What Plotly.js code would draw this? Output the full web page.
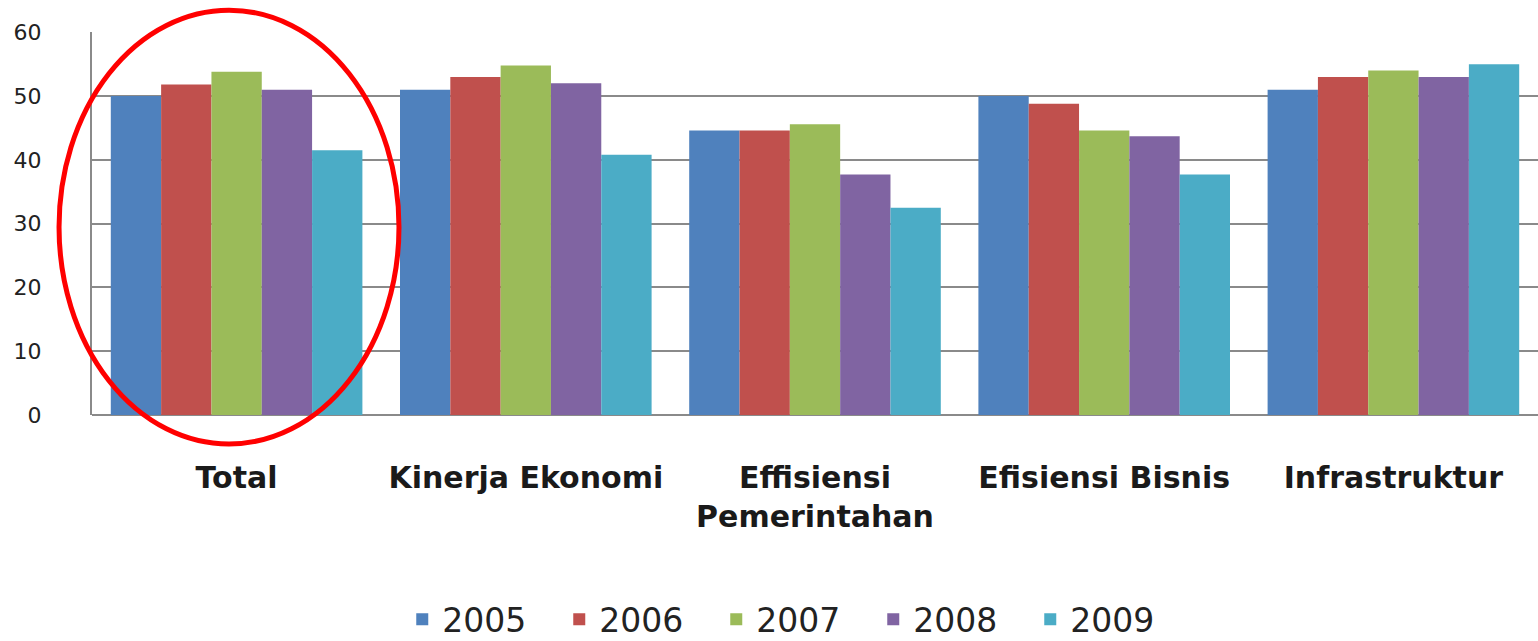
<!DOCTYPE html>
<html>
<head>
<meta charset="utf-8">
<script src="https://cdn.plot.ly/plotly-3.0.1.min.js"></script>
<style>html,body{margin:0;padding:0;background:#fff;}#chart{width:1538px;height:641px;}</style>
</head>
<body>
<div id="chart"></div>
<script>
var categories = ["Total", "Kinerja Ekonomi", "Effisiensi<br>Pemerintahan", "Efisiensi Bisnis", "Infrastruktur"];
var years = ["2005", "2006", "2007", "2008", "2009"];
var v2005 = [50, 51, 44.6, 50, 51];
var v2006 = [51.8, 53, 44.6, 48.8, 53];
var v2007 = [53.8, 54.8, 45.6, 44.6, 54];
var v2008 = [51, 52, 37.7, 43.7, 53];
var v2009 = [41.5, 40.8, 32.5, 37.7, 55];
var yTicks = [0, 10, 20, 30, 40, 50, 60];
var colors = ["#4F81BD", "#C0504D", "#9BBB59", "#8064A2", "#4BACC6"];
var series = [v2005, v2006, v2007, v2008, v2009];

var traces = series.map(function (vals, i) {
  return {
    type: "bar",
    name: years[i],
    x: categories,
    y: vals,
    marker: { color: colors[i] },
    hoverinfo: "none"
  };
});

var layout = {
  width: 1538,
  height: 641,
  margin: { l: 92, r: 0, t: 32, b: 226 },
  paper_bgcolor: "#fff",
  plot_bgcolor: "#fff",
  barmode: "group",
  bargap: 0.13,
  bargroupgap: 0,
  showlegend: true,
  legend: {
    orientation: "h",
    xref: "paper",
    yref: "container",
    x: 0.486, xanchor: "center",
    y: 0.034, yanchor: "middle",
    font: { family: "DejaVu Sans", size: 33, color: "#222" },
    itemwidth: 30,
    entrywidth: 112,
    entrywidthmode: "pixels",
    tracegroupgap: 0
  },
  xaxis: {
    type: "category",
    tickfont: { family: "DejaVu Sans", size: 30, color: "#1a1a1a", weight: "bold" },
    ticks: "",
    ticklabelstandoff: 42,
    showline: false,
    showgrid: false
  },
  yaxis: {
    range: [0, 60.05],
    tickvals: yTicks,
    ticktext: yTicks.map(String),
    tickfont: { family: "DejaVu Sans", size: 22, color: "#222" },
    ticks: "",
    ticklabelstandoff: 44,
    showgrid: true,
    gridcolor: "#8a8a8a",
    gridwidth: 2,
    showline: true,
    linecolor: "#8a8a8a",
    linewidth: 2,
    zeroline: true,
    zerolinecolor: "#8a8a8a",
    zerolinewidth: 2
  },
  shapes: [{
    type: "circle",
    xref: "paper", yref: "paper",
    x0: -0.0228, x1: 0.2123,
    y0: -0.0757, y1: 1.057,
    line: { color: "#ff0000", width: 5 },
    layer: "above"
  }]
};

Plotly.newPlot("chart", traces, layout, { displayModeBar: false, staticPlot: true });
</script>
</body>
</html>
